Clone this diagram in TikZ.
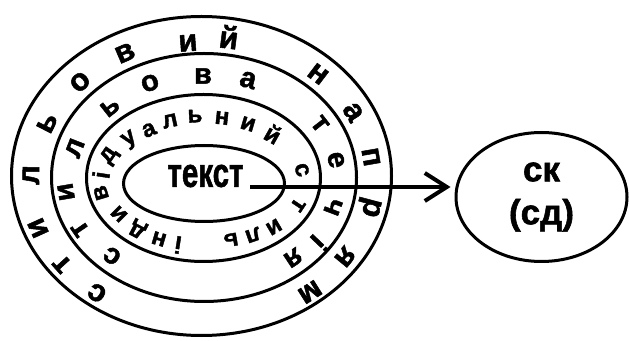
\documentclass[tikz,border=0pt]{standalone}
\usepackage{fontspec}
\setmainfont{Liberation Sans}
\newfontfamily\heavyfont[BoldFeatures={FakeBold=1.6}]{Liberation Sans}
\usetikzlibrary{arrows.meta,shapes.geometric}
\begin{document}
\begin{tikzpicture}[x=1pt,y=1pt,
  ringline/.style={line width=3pt},
  ltrA/.style={font=\fontsize{31}{31}\heavyfont\bfseries, inner sep=0pt, anchor=center},
  ltrB/.style={font=\fontsize{29}{29}\heavyfont\bfseries, inner sep=0pt, anchor=center},
  ltrC/.style={font=\fontsize{24}{24}\heavyfont\bfseries, inner sep=0pt, anchor=center},
  bigtext/.style={font=\fontsize{41}{41}\heavyfont\bfseries, inner sep=0pt},
  goal/.style={draw, ellipse, line width=3pt, inner sep=0pt, minimum width=171pt, minimum height=129pt,
    align=center, font=\fontsize{35}{43}\heavyfont\bfseries},
  link/.style={line width=4pt, -{Straight Barb[length=22pt,width=28pt]}}]
\useasboundingbox (0,0) rectangle (629,340);
% concentric ellipses
\draw[ringline] (201.5,164) ellipse [x radius=190, y radius=159.5];
\draw[ringline] (204,162.5) ellipse [x radius=152.5, y radius=124];
\draw[ringline] (203.5,162) ellipse [x radius=117, y radius=83.5];
\draw[ringline] (204,156.5) ellipse [x radius=80.5, y radius=38];
% ring 1: стильовий напрям
\foreach \ch/\x/\y [count=\i] in {с/97/293, т/62/264, и/38/228, л/31/175, ь/47/123, о/80/82, в/125/53, и/188/43, й/229/37, н/318/74, а/353/112, п/371/157, р/369/207, я/345/257, м/310/292}{
  \pgfmathsetmacro\r{atan2((177-\y)/143*173,(\x-203)/173*143)-90}
  \node[ltrA, rotate=\r] (ra\i) at (\x,340-\y) {\ch};
}
% ring 2: стильова течія
\foreach \ch/\x/\y [count=\i] in {с/112/256, т/80/229, и/66/192, л/75/148, ь/110/107, о/150/83, в/203/76, а/248/80, т/320/124, е/336/160, ч/333/207, і/319/243, я/293/258}{
  \pgfmathsetmacro\r{atan2((178-\y)/105*136,(\x-204)/136*105)-90}
  \node[ltrB, rotate=\r] (rb\i) at (\x,340-\y) {\ch};
}
% ring 3: індивідуальний стиль
\foreach \ch/\x/\y [count=\i] in {і/178/245, н/159/239, д/138/229, и/119/214, в/101/193, і/101/175, д/110/156, у/130/140, а/149/130, л/170/121, ь/195/116, н/222/118, и/248/124, й/273/134, с/302/170, т/298/205, и/274/227, л/253/235, ь/231/240}{
  \pgfmathsetmacro\r{atan2((181-\y)/62*100,(\x-204)/100*62)-90}
  \node[ltrC, rotate=\r] (rc\i) at (\x,340-\y) {\ch};
}
% centre text
\node[bigtext] (txt) at (205.5,164) {\scalebox{0.72}[1]{текст}};
% goal ellipse
\node[goal] (sk) at (541.5,143) {ск\\(сд)};
% arrow
\coordinate (start) at (250,153);
\draw[link, shorten >=4pt] (start) -- (start -| sk.west);
\end{tikzpicture}
\end{document}
